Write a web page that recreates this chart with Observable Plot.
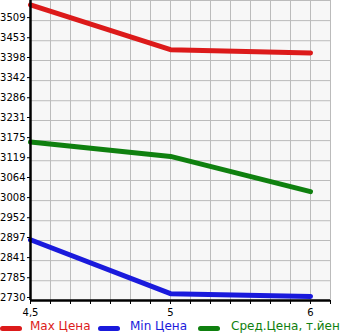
<!DOCTYPE html>
<html>
<head>
<meta charset="utf-8">
<script src="https://cdn.jsdelivr.net/npm/d3@7"></script>
<script src="https://cdn.jsdelivr.net/npm/@observablehq/plot@0.6"></script>
<style>
  body { margin: 0; background: #fff; font-family: "DejaVu Sans", sans-serif; }
  #legend { position: relative; width: 345px; height: 17px; font-size: 12px; overflow: hidden; white-space: nowrap; }
  .sw { position: absolute; top: 8px; height: 5px; width: 22px; border-radius: 3px; }
  .lt { position: absolute; top: 1px; line-height: 14px; }
</style>
</head>
<body>
<div id="chart"></div>
<div id="legend"></div>
<script>
const labels = ["4,5", "5", "6"];
const maxPrice = [3553, 3428, 3419];
const minPrice = [2899, 2749, 2741];
const avgPrice = [3171, 3131, 3033];
const yTicks = [2730, 2785, 2841, 2897, 2952, 3008, 3064, 3119, 3175, 3231, 3286, 3342, 3398, 3453, 3509];
const seriesNames = ["Max Цена", "Min Цена", "Сред.Цена, т.йен"];
const colors = ["#dc1a1a", "#1a1adc", "#0f800f"];

const series = [maxPrice, minPrice, avgPrice];
const yMax = 3565;
const xMax = 15 / 7;
const gridX = d3.range(1, 16).map(k => k / 7);

const lineMarks = series.map((vals, s) =>
  Plot.line(vals.map((v, i) => ({i, v})), {
    x: "i", y: "v", stroke: colors[s], strokeWidth: 5,
    strokeLinecap: "round", strokeLinejoin: "round"
  })
);

const chart = Plot.plot({
  width: 345, height: 318,
  marginLeft: 30, marginRight: 15, marginTop: 0, marginBottom: 18,
  x: {domain: [0, xMax], axis: null},
  y: {domain: [2730, yMax], axis: null},
  style: {fontFamily: "DejaVu Sans", fontSize: "10px", background: "transparent", color: "#000"},
  marks: [
    Plot.frame({fill: "#f7f7f7", stroke: null}),
    Plot.ruleX(gridX, {stroke: "#bbb", strokeWidth: 1}),
    Plot.ruleY([...yTicks.slice(1), yMax], {stroke: "#bbb", strokeWidth: 1}),
    ...lineMarks,
    Plot.axisY(yTicks, {anchor: "left", tickSize: 3, tickPadding: 2, label: null, dy: -3, tickFormat: d => String(d)}),
    Plot.axisX(d3.range(0, 16).map(k => k / 7), {anchor: "bottom", tickSize: 4, tickFormat: () => "", label: null}),
    Plot.axisX([0, 1, 2], {anchor: "bottom", tickSize: 0, tickPadding: 8, tickFormat: i => labels[i], label: null}),
    Plot.ruleX([0], {stroke: "#000", strokeWidth: 2.5}),
    Plot.ruleY([2730], {stroke: "#000", strokeWidth: 2.5})
  ]
});
document.getElementById("chart").appendChild(chart);

const legend = document.getElementById("legend");
const swX = [0, 98, 198];
const txX = [30, 130, 231];
seriesNames.forEach((name, s) => {
  const sw = document.createElement("div");
  sw.className = "sw";
  sw.style.left = swX[s] + "px";
  sw.style.background = colors[s];
  legend.appendChild(sw);
  const t = document.createElement("div");
  t.className = "lt";
  t.style.left = txX[s] + "px";
  t.style.color = colors[s];
  t.textContent = name;
  legend.appendChild(t);
});
</script>
</body>
</html>
